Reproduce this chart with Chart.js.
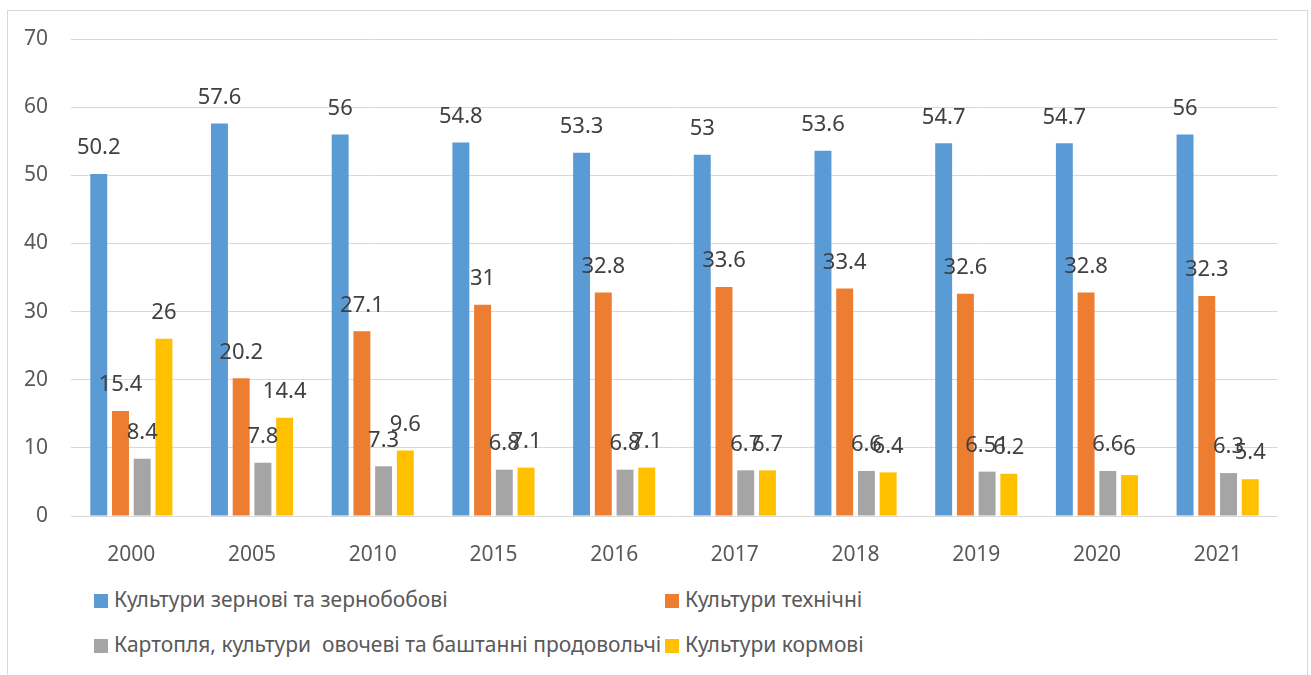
<!DOCTYPE html>
<html lang="uk">
<head>
<meta charset="utf-8">
<title>Структура посівних площ</title>
<script src="https://cdn.jsdelivr.net/npm/chart.js@4/dist/chart.umd.min.js"></script>
<style>
    html, body { margin: 0; padding: 0; background: #fff; }
    body { width: 1311px; height: 675px; position: relative; overflow: hidden; font-family: "Noto Sans", sans-serif; }
    .frame { position: absolute; left: 7px; top: 10px; width: 1299px; height: 700px; border: 1px solid #d9d9d9; }
    #chartCanvas { position: absolute; left: 0; top: 0; }
    .legend-item { position: absolute; height: 24px; line-height: 24px; font-size: 21px; color: #595959; white-space: pre; }
    .legend-item .box { position: absolute; left: 0; top: 5px; width: 14px; height: 14px; }
    .legend-item .text { position: absolute; left: 20px; top: -2px; }
</style>
</head>
<body>
<div class="frame"></div>
<canvas id="chartCanvas" width="1311" height="580"></canvas>
<div id="legend"></div>

<script>
const years = ['2000', '2005', '2010', '2015', '2016', '2017', '2018', '2019', '2020', '2021'];

const seriesNames = [
    'Культури зернові та зернобобові',
    'Культури технічні',
    'Картопля, культури  овочеві та баштанні продовольчі',
    'Культури кормові'
];

const zernovi   = [50.2, 57.6, 56, 54.8, 53.3, 53, 53.6, 54.7, 54.7, 56];
const tekhnichni = [15.4, 20.2, 27.1, 31, 32.8, 33.6, 33.4, 32.6, 32.8, 32.3];
const kartoplia = [8.4, 7.8, 7.3, 6.8, 6.8, 6.7, 6.6, 6.51, 6.6, 6.3];
const kormovi   = [26, 14.4, 9.6, 7.1, 7.1, 6.7, 6.4, 6.2, 6, 5.4];

const yTicks = [0, 10, 20, 30, 40, 50, 60, 70];

const seriesColors = ['#5B9BD5', '#ED7D31', '#A5A5A5', '#FFC000'];

document.addEventListener('DOMContentLoaded', function() {

    // підписи значень над стовпчиками (без окремого плагіна datalabels)
    const valueLabels = {
        id: 'valueLabels',
        afterDatasetsDraw(chart) {
            const ctx = chart.ctx;
            ctx.save();
            ctx.font = '22px "Noto Sans", sans-serif';
            ctx.fillStyle = '#404040';
            ctx.textAlign = 'center';
            ctx.textBaseline = 'middle';
            chart.data.datasets.forEach((ds, i) => {
                const meta = chart.getDatasetMeta(i);
                meta.data.forEach((bar, j) => {
                    ctx.fillText(String(ds.data[j]), bar.x, bar.y - 26);
                });
            });
            ctx.restore();
        }
    };

    const allSeries = [zernovi, tekhnichni, kartoplia, kormovi];

    const ctx = document.getElementById('chartCanvas').getContext('2d');
    new Chart(ctx, {
        type: 'bar',
        data: {
            labels: years,
            datasets: allSeries.map((values, i) => ({
                label: seriesNames[i],
                data: values,
                backgroundColor: seriesColors[i],
                borderWidth: 0,
                categoryPercentage: 0.72,
                barPercentage: 0.78
            }))
        },
        options: {
            responsive: false,
            animation: false,
            layout: { padding: { left: 0, right: 33, top: 39, bottom: 0 } },
            plugins: {
                legend: { display: false },
                tooltip: { enabled: false }
            },
            scales: {
                x: {
                    grid: { display: false },
                    border: { display: false },
                    ticks: { color: '#595959', font: { family: 'Noto Sans', size: 21 }, padding: 18 },
                    afterFit: scale => { scale.height = 64; }
                },
                y: {
                    min: 0,
                    max: 70,
                    afterBuildTicks: scale => { scale.ticks = yTicks.map(v => ({ value: v })); },
                    grid: { color: '#d9d9d9', lineWidth: 1, drawTicks: false },
                    border: { display: false },
                    ticks: { color: '#595959', font: { family: 'Noto Sans', size: 21 }, padding: 23 },
                    afterFit: scale => { scale.width = 71; }
                }
            }
        },
        plugins: [valueLabels]
    });

    // легенда знизу: два рядки по дві колонки
    const legendPos = [
        { left: 94, top: 589 },
        { left: 665, top: 589 },
        { left: 94, top: 634 },
        { left: 665, top: 634 }
    ];
    const legendDiv = document.getElementById('legend');
    seriesNames.forEach((name, i) => {
        const item = document.createElement('div');
        item.className = 'legend-item';
        item.style.left = legendPos[i].left + 'px';
        item.style.top = legendPos[i].top + 'px';
        const box = document.createElement('span');
        box.className = 'box';
        box.style.background = seriesColors[i];
        const text = document.createElement('span');
        text.className = 'text';
        text.textContent = name;
        item.appendChild(box);
        item.appendChild(text);
        legendDiv.appendChild(item);
    });
});
</script>
</body>
</html>
